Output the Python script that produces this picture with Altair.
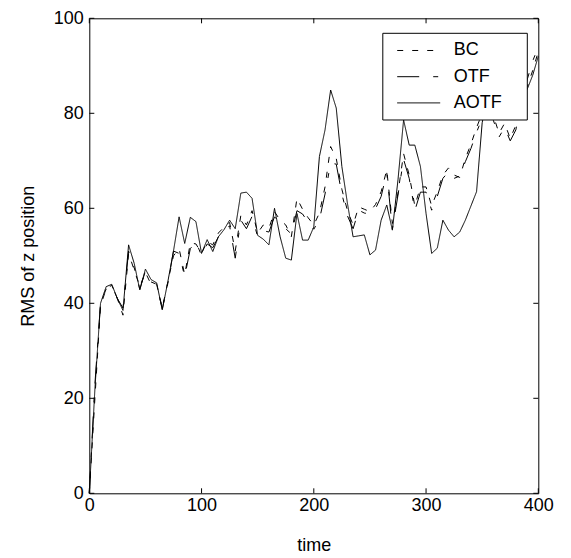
import altair as alt
import pandas as pd

time = list(range(0, 405, 5))

bc = [0, 20, 39.5, 43, 43.8, 41, 37.5, 50.5, 47, 43.5,
      46.5, 44, 44, 39, 44.5, 50, 51.5, 46, 52.7, 52.5,
      50.5, 53, 52.3, 54.8, 56, 57, 51, 58.5, 56.5, 59.5,
      54.8, 56.5, 55.8, 59.3, 57.5, 56.5, 54, 62.1, 59.8, 58,
      56.5, 59, 64.5, 73, 70.5, 64, 59.5, 56.5, 60.3, 59.8,
      59.3, 60.8, 63.5, 68.1, 56.8, 63.2, 71.5, 67, 60.5, 64.5,
      64.5, 60.5, 63.5, 67, 68.5, 67, 66.5, 70.5, 73.5, 77,
      80, 82, 79.5, 75.8, 77.9, 74.7, 77.5, 82, 85.5, 89, 93]

otf = [0, 23, 40, 43, 43.8, 41, 39, 51, 47.5, 43,
       46.8, 44.5, 44, 38.8, 44.2, 51, 50.5, 45.6, 51.5, 53,
       50, 52.5, 51.7, 54, 55.5, 56.3, 49.5, 57.5, 55.7, 58.3,
       54, 55.3, 55, 58.2, 57, 55.7, 54.6, 59.5, 58.8, 57,
       55.6, 57.6, 63, 69.5, 69.3, 63, 58.4, 55.7, 59.6, 59,
       58.8, 59.9, 62.5, 67.5, 55.6, 62.8, 70.3, 66.3, 59.5, 63.4,
       63.4, 59.6, 62.5, 66.3, 67.7, 66.3, 66.8, 69.8, 72.6, 76,
       79, 81, 78.5, 75, 77, 74.2, 76.5, 83, 87, 91, 94]

aotf = [0, 22, 40, 43.5, 44, 41, 38.5, 52.3, 48.4, 42.8,
        47.2, 45, 44.3, 38.6, 44.6, 51, 58.2, 52.6, 58.1, 57.2,
        50.5, 53.4, 50.9, 54, 55.5, 57.5, 55.7, 63.2, 63.4, 62.1,
        54.3, 53.5, 52.3, 60, 54, 49.5, 49.1, 58.9, 53.3, 53.3,
        56.1, 70.9, 76.5, 84.9, 81.1, 68.8, 61, 54, 54.2, 54.4,
        50.2, 51.2, 57.5, 60.7, 55.4, 66, 78.6, 73.3, 73.3, 68.8,
        58.9, 50.5, 51.6, 57.5, 55.4, 54, 55, 57.5, 60.5, 63.5,
        78, 84, 86, 82, 80, 84, 86, 83, 85, 88, 92]

series_names = ["BC", "OTF", "AOTF"]
x_ticks = [0, 100, 200, 300, 400]
y_ticks = [0, 20, 40, 60, 80, 100]

rows = []
for name, vals in zip(series_names, [bc, otf, aotf]):
    for t, v in zip(time, vals):
        rows.append({"time": t, "value": v, "series": name})
df = pd.DataFrame(rows)

W, H = 449, 475
FONT = "Liberation Sans"
FS = 18

x_scale = alt.Scale(domain=[0, 400], nice=False, zero=False)
y_scale = alt.Scale(domain=[0, 100], nice=False)

x_axis = alt.Axis(values=x_ticks, title="time", tickSize=0, domain=False,
                  grid=False, labelPadding=3, labelFlush=False,
                  titleBaseline="middle", titleY=52)
y_axis = alt.Axis(values=y_ticks, title="RMS of z position", tickSize=0,
                  domain=False, grid=False, labelPadding=6, labelFlush=False,
                  titleBaseline="middle", titleX=-61)

lines = alt.Chart(df).mark_line(color="black", strokeWidth=1).encode(
    x=alt.X("time:Q", scale=x_scale, axis=x_axis),
    y=alt.Y("value:Q", scale=y_scale, axis=y_axis),
    strokeDash=alt.StrokeDash(
        "series:N",
        scale=alt.Scale(domain=series_names,
                        range=[[6, 9], [22, 14, 5, 14], [1, 0]]),
        legend=alt.Legend(orient="none", legendX=318.9, legendY=21.7, title=None,
                          padding=0, symbolType="M-2.15,0H2.15", symbolSize=400,
                          symbolStrokeWidth=1, symbolStrokeColor="black",
                          symbolFillColor="transparent",
                          labelFont=FONT, labelFontSize=FS, labelColor="black",
                          labelOffset=24.5, rowPadding=6.2),
    ),
    order=alt.Order("time:Q"),
)

legend_box = alt.Chart(pd.DataFrame({"box": [0]})).mark_rect(
    fill="white", stroke="black", strokeWidth=1
).encode(x=alt.value(293.5), x2=alt.value(438), y=alt.value(15), y2=alt.value(101.7))

xt = pd.DataFrame({"time": x_ticks})
yt = pd.DataFrame({"value": y_ticks})

xb = alt.Chart(xt).mark_rule(color="black", strokeWidth=1).encode(
    x=alt.X("time:Q", scale=x_scale, axis=x_axis), y=alt.value(H), y2=alt.value(H - 5))
xtop = alt.Chart(xt).mark_rule(color="black", strokeWidth=1).encode(
    x=alt.X("time:Q", scale=x_scale, axis=x_axis), y=alt.value(0), y2=alt.value(5))
yl = alt.Chart(yt).mark_rule(color="black", strokeWidth=1).encode(
    y=alt.Y("value:Q", scale=y_scale, axis=y_axis), x=alt.value(0), x2=alt.value(5))
yr = alt.Chart(yt).mark_rule(color="black", strokeWidth=1).encode(
    y=alt.Y("value:Q", scale=y_scale, axis=y_axis), x=alt.value(W), x2=alt.value(W - 5))

chart = alt.layer(lines, legend_box, xb, xtop, yl, yr).properties(
    width=W, height=H,
    autosize=alt.AutoSizeParams(type="none"),
    padding={"left": 81.3, "top": 10.3, "right": 20, "bottom": 62},
    background="white",
).configure_view(stroke="black", strokeWidth=1).configure_axis(
    labelFont=FONT, titleFont=FONT, labelFontSize=FS, titleFontSize=FS,
    labelColor="black", titleColor="black", titleFontWeight="normal",
)

chart.save("out.html", embed_options={"renderer": "svg", "actions": False})
